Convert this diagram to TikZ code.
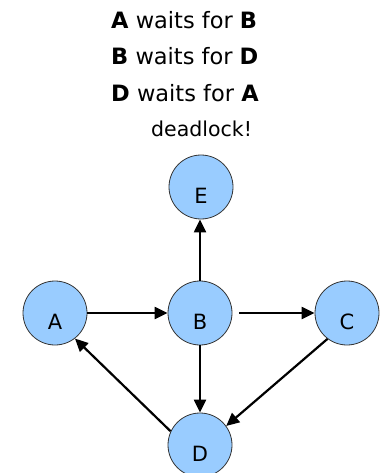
\documentclass[tikz,border=0pt]{standalone}
\usepackage{fontspec}
\setmainfont{DejaVu Sans}
\usetikzlibrary{arrows.meta}
\definecolor{nodeblue}{HTML}{99CCFF}
\begin{document}
\begin{tikzpicture}[x=1pt,y=-1pt,
  state/.style={circle,draw=black!80,line width=0.8pt,fill=nodeblue,minimum size=64pt,inner sep=0pt,
    text height=32pt,text depth=0pt,font=\fontsize{21}{24}\selectfont},
  edge/.style={line width=2.2pt,-{Triangle[length=13pt,width=12pt]}},
  txt/.style={anchor=base west,font=\fontsize{22.5}{26}\selectfont,inner sep=0pt}]
\useasboundingbox (0,0) rectangle (381,473);
\node[txt] (l1) at (111,29) {\textbf{A} waits for \textbf{B}};
\node[txt] (l2) at (111,64.5) {\textbf{B} waits for \textbf{D}};
\node[txt] (l3) at (111,101.5) {\textbf{D} waits for \textbf{A}};
\node[txt,font=\fontsize{20.5}{24}\selectfont] (dl) at (151,137) {deadlock!};
\node[state] (E) at (201,187) {E};
\node[state] (A) at (55,313) {A};
\node[state] (B) at (200,313) {B};
\node[state] (C) at (347,313) {C};
\node[state] (D) at (200,445) {D};
\draw[edge] (A) -- (B);
\draw[edge,shorten <=7pt] (B) -- (C);
\draw[edge] (B) -- (B|-E.south);
\draw[edge] (B) -- (D);
\draw[edge] (C.233) -- (D.36);
\draw[edge] (D.155) -- (A.308);
\end{tikzpicture}
\end{document}
